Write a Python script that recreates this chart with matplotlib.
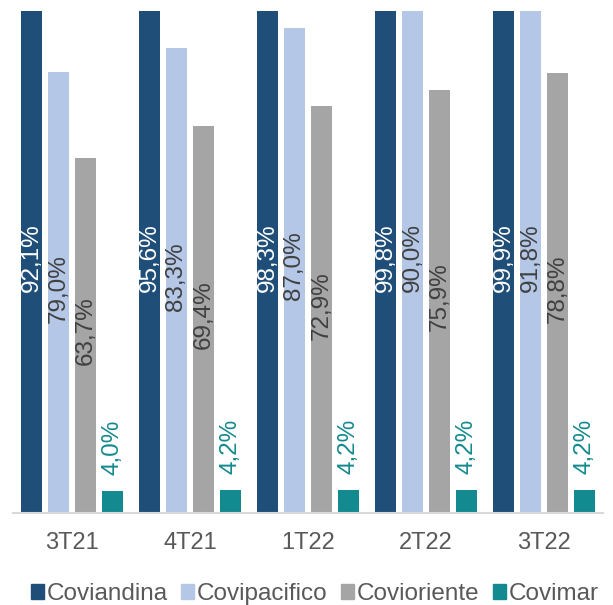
import numpy as np
import matplotlib.pyplot as plt
from matplotlib.patches import Patch

plt.rcParams['font.family'] = ['Liberation Sans', 'DejaVu Sans']

periods = ['3T21', '4T21', '1T22', '2T22', '3T22']
series = ['Coviandina', 'Covipacifico', 'Covioriente', 'Covimar']
coviandina = [92.1, 95.6, 98.3, 99.8, 99.9]
covipacifico = [79.0, 83.3, 87.0, 90.0, 91.8]
covioriente = [63.7, 69.4, 72.9, 75.9, 78.8]
covimar = [4.0, 4.2, 4.2, 4.2, 4.2]

colors = ['#1F4E79', '#B4C7E7', '#A5A5A5', '#138A8F']
text_colors = ['white', '#404040', '#404040', '#138A8F']
ymax = 90

fig = plt.figure(figsize=(6.13, 6.05), dpi=100)
ax = fig.add_axes([0.0212, 0.152, 0.9625, 0.83])

x = np.arange(len(periods))
width = 0.178
pitch = 0.229
data = [coviandina, covipacifico, covioriente, covimar]
for i, vals in enumerate(data):
    xs = x + (i - 1.5) * pitch
    ax.bar(xs, vals, width, color=colors[i], zorder=2)
    for xi, v in zip(xs, vals):
        txt = f'{v:.1f}%'.replace('.', ',')
        if i < 3:
            ax.text(xi, min(v, ymax) / 2 + 0.8, txt, rotation=90, ha='center', va='center',
                    color=text_colors[i], fontsize=17.5)
        else:
            ax.annotate(txt, (xi, v), xytext=(0, 11), textcoords='offset points',
                        rotation=90, ha='center', va='bottom',
                        color=text_colors[i], fontsize=17.5)

ax.set_ylim(0, ymax)
ax.set_xlim(-0.5, len(periods) - 0.5)
ax.set_xticks(x)
ax.set_xticklabels(periods, fontsize=17, color='#595959')
ax.tick_params(axis='x', length=0, pad=14)
ax.set_yticks([])
for s in ['top', 'right', 'left']:
    ax.spines[s].set_visible(False)
ax.spines['bottom'].set_color('#D9D9D9')
ax.spines['bottom'].set_linewidth(1.5)
ax.spines['bottom'].set_zorder(3)

handles = [Patch(color=c, label=n) for c, n in zip(colors, series)]
fig.legend(handles=handles, loc='center', bbox_to_anchor=(0.513, 0.018), ncol=4,
           frameon=False, fontsize=17.5, handlelength=0.55, handleheight=0.55,
           handletextpad=0.1, columnspacing=0.55, labelcolor='#595959',
           borderpad=0, borderaxespad=0)

fig.savefig('out.png', dpi=100)
